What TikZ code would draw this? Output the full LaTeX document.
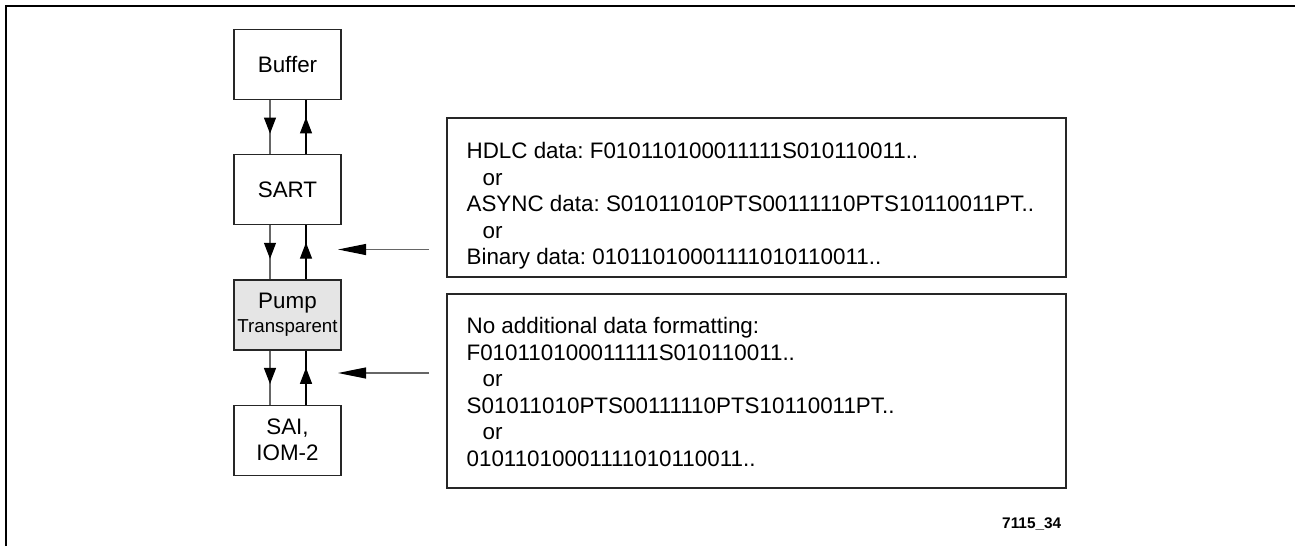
\documentclass[tikz,border=0pt]{standalone}
\usepackage{fontspec}
\setmainfont{Liberation Sans}
\usetikzlibrary{arrows.meta,decorations.markings}
\usetikzlibrary{positioning}
\frenchspacing
\tikzset{
    block/.style={
      rectangle,
           draw=black!85, line width=1.2pt,
           inner sep=0pt,
           align=center,
           minimum width=107pt,
           minimum height=70pt,
           font=\fontsize{22.4}{26}\selectfont,
           },
}
\tikzset{
    pumpblock/.style={
      block,
           fill=black!10,
           font=\fontsize{22.4}{24}\selectfont,
           },
}
\tikzset{
    infobox/.style={
      rectangle,
           draw=black!85, line width=1.2pt,
           inner sep=0pt,
           minimum width=619pt,
           },
}
\tikzset{
    infotext/.style={
      anchor=north west,
           inner sep=0pt,
           align=left,
           font=\fontsize{22.4}{26.5}\selectfont,
           },
}
\tikzset{
    dnline/.style={
      draw=black!60, line width=1.1pt,
           postaction={decorate},
           decoration={markings,
             mark=at position #1 with {\arrow[black]{Triangle[length=16pt,width=12pt]}}},
           },
    dnline/.default=0.62,
    upline/.style={
      dnline=#1, draw=black,
           },
    upline/.default=0.68,
    feed/.style={
      draw=black!60, line width=1.1pt,
           -{Triangle[length=28pt,width=11pt,fill=black,color=black]},
           },
}

\begin{document}
\begin{tikzpicture}[x=1pt,y=-1pt]
\useasboundingbox (0,0) rectangle (1295,546);

% frame
\draw[line width=2.4pt] (6,546) -- (6,6) -- (1295,6);

\node[block](buf) at (287.5,64.5){Buffer};
\node[block,below = 54pt of buf](sart){SART};
\node[pumpblock,below = 54pt of sart](pump){Pump\\{\fontsize{18.7}{24}\selectfont Transparent}};
\node[block,below = 54pt of pump](sai){SAI,\\IOM-2};

\path ([xshift=-17.5pt]buf.south) edge[dnline] ([xshift=-17.5pt]sart.north);
\path ([xshift=18.5pt]sart.north) edge[upline] ([xshift=18.5pt]buf.south);
\path ([xshift=-17.5pt]sart.south) edge[dnline] ([xshift=-17.5pt]pump.north);
\path ([xshift=18.5pt]pump.north) edge[upline] ([xshift=18.5pt]sart.south);
\path ([xshift=-17.5pt]pump.south) edge[dnline] ([xshift=-17.5pt]sai.north);
\path ([xshift=18.5pt]sai.north) edge[upline] ([xshift=18.5pt]pump.south);

\node[infobox,minimum height=159pt](hdlc) at (756.5,197.5){};
\node[infotext](hdlctxt) at ([xshift=20pt,yshift=-25pt]hdlc.north west){%
HDLC data: F010110100011111S010110011..\\
\hspace*{16pt}or\\
ASYNC data: S01011010PTS00111110PTS10110011PT..\\
\hspace*{16pt}or\\
Binary data: 01011010001111010110011..};

\node[infobox,minimum height=194pt](nofmt) at (756.5,391){};
\node[infotext](nofmttxt) at ([xshift=20pt,yshift=-24pt]nofmt.north west){%
No additional data formatting:\\
F010110100011111S010110011..\\
\hspace*{16pt}or\\
S01011010PTS00111110PTS10110011PT..\\
\hspace*{16pt}or\\
01011010001111010110011..};

\coordinate (ina) at (429,249.5);
\coordinate (tipa) at (338,249.5);
\coordinate (inb) at (429,373);
\coordinate (tipb) at (338,373);
\path (ina) edge[feed] (tipa);
\path (inb) edge[feed] (tipb);

\node[anchor=base west,inner sep=0pt,font=\bfseries\fontsize{15.4}{18}\selectfont](figid) at (1002,528){7115\_34};

\end{tikzpicture}
\end{document}
